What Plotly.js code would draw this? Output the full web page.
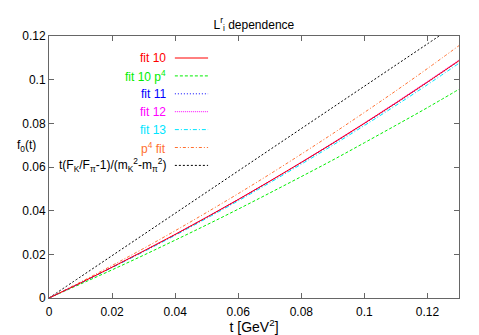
<!DOCTYPE html>
<html>
<head>
<meta charset="utf-8">
<script src="https://cdn.plot.ly/plotly-3.0.1.min.js"></script>
<style>
  html, body { margin: 0; padding: 0; background: #fff; }
  #plot { width: 479px; height: 335px; }
</style>
</head>
<body>
<div id="plot"></div>
<script>
// t values in GeV^2
let t = [0, 0.01, 0.02, 0.03, 0.04, 0.05, 0.06, 0.07, 0.08, 0.09, 0.10, 0.11, 0.12, 0.13];

let fit10   = [0, 0.0069, 0.0141, 0.0215, 0.0291, 0.0370, 0.0451, 0.0535, 0.0621, 0.0709, 0.0800, 0.0893, 0.0989, 0.1087];
let fit10p4 = [0, 0.0064, 0.0129, 0.0196, 0.0265, 0.0335, 0.0407, 0.0481, 0.0556, 0.0632, 0.0711, 0.0791, 0.0872, 0.0956];
let fit11   = [0, 0.0069, 0.0141, 0.0214, 0.0290, 0.0369, 0.0450, 0.0534, 0.0620, 0.0708, 0.0798, 0.0891, 0.0987, 0.1085];
let fit12   = [0, 0.0069, 0.0142, 0.0216, 0.0292, 0.0371, 0.0452, 0.0536, 0.0622, 0.0711, 0.0802, 0.0896, 0.0992, 0.1090];
let fit13   = [0, 0.0068, 0.0139, 0.0212, 0.0287, 0.0365, 0.0445, 0.0528, 0.0613, 0.0700, 0.0790, 0.0882, 0.0977, 0.1075];
let p4fit   = [0, 0.0073, 0.0149, 0.0227, 0.0308, 0.0392, 0.0478, 0.0567, 0.0659, 0.0753, 0.0850, 0.0949, 0.1051, 0.1156];
let ratio   = [0, 0.0097, 0.0194, 0.0291, 0.0388, 0.0485, 0.0582, 0.0679, 0.0776, 0.0873, 0.0970, 0.1067, 0.1164, 0.1261];

let names = ["fit 10", "fit 10 p<sup>4</sup>", "fit 11", "fit 12", "fit 13", "p<sup>4</sup> fit",
             "t(F<sub>K</sub>/F<sub>π</sub>-1)/(m<sub>K</sub><sup>2</sup>-m<sub>π</sub><sup>2</sup>)"];
let series = [fit10, fit10p4, fit11, fit12, fit13, p4fit, ratio];
let colors = ["#ff0000", "#00ee00", "#0000ff", "#ff00ff", "#00e5ff", "#ff7030", "#000000"];
let dashes = ["solid", "3px,2px", "1px,2px", "1px,1px", "4px,2px,1px,2px", "3px,2px,1px,2px", "2px,2px"];

// draw order: black first so the fits sit on top
let order = [6, 5, 1, 4, 3, 2, 0];
let traces = order.map(function (i) {
  return {
    x: t,
    y: series[i],
    type: "scatter",
    mode: "lines",
    line: {color: colors[i], width: 1, dash: dashes[i], shape: "spline"},
    showlegend: false,
    hoverinfo: "skip"
  };
});

// gnuplot style key: right aligned text, sample line to its right
let annotations = [];
let shapes = [];
names.forEach(function (name, i) {
  let yp = (240 - i * 17.9) / 262;
  annotations.push({
    xref: "paper", yref: "paper", x: 0.290, y: yp,
    xanchor: "right", yanchor: "middle", showarrow: false,
    text: name, font: {color: colors[i], size: 12}
  });
  shapes.push({
    type: "line", xref: "paper", yref: "paper",
    x0: 0.307, x1: 0.388, y0: yp, y1: yp,
    line: {color: colors[i], width: 1, dash: dashes[i]}
  });
});

// y label, horizontal like gnuplot
annotations.push({
  xref: "paper", yref: "paper", x: -0.054, y: (298 - 146) / 262,
  xanchor: "center", yanchor: "middle", showarrow: false,
  text: "f<sub>0</sub>(t)", font: {color: "#000", size: 12}
});

let layout = {
  width: 479,
  height: 335,
  margin: {l: 49, r: 20, t: 36, b: 37},
  paper_bgcolor: "#fff",
  plot_bgcolor: "#fff",
  font: {family: "Liberation Sans, Arial, sans-serif", size: 12, color: "#000"},
  title: {text: "L<sup>r</sup><sub>i</sub> dependence", x: 0.53, xanchor: "center", y: 0.94, font: {size: 12}},
  xaxis: {
    range: [0, 0.13],
    tickvals: [0, 0.02, 0.04, 0.06, 0.08, 0.1, 0.12],
    ticktext: ["0", "0.02", "0.04", "0.06", "0.08", "0.1", "0.12"],
    ticks: "inside", ticklen: 5, tickcolor: "#666",
    ticklabelstandoff: 3,
    showline: true, linecolor: "#666", linewidth: 1, mirror: "ticks",
    showgrid: false, zeroline: false,
    title: {text: "t [GeV<sup>2</sup>]", standoff: 8}
  },
  yaxis: {
    range: [0, 0.12],
    tickvals: [0, 0.02, 0.04, 0.06, 0.08, 0.1, 0.12],
    ticktext: ["0", "0.02", "0.04", "0.06", "0.08", "0.1", "0.12"],
    ticks: "inside", ticklen: 5, tickcolor: "#666",
    showline: true, linecolor: "#666", linewidth: 1, mirror: "ticks",
    showgrid: false, zeroline: false
  },
  annotations: annotations,
  shapes: shapes
};

Plotly.newPlot("plot", traces, layout, {staticPlot: true});
</script>
</body>
</html>
